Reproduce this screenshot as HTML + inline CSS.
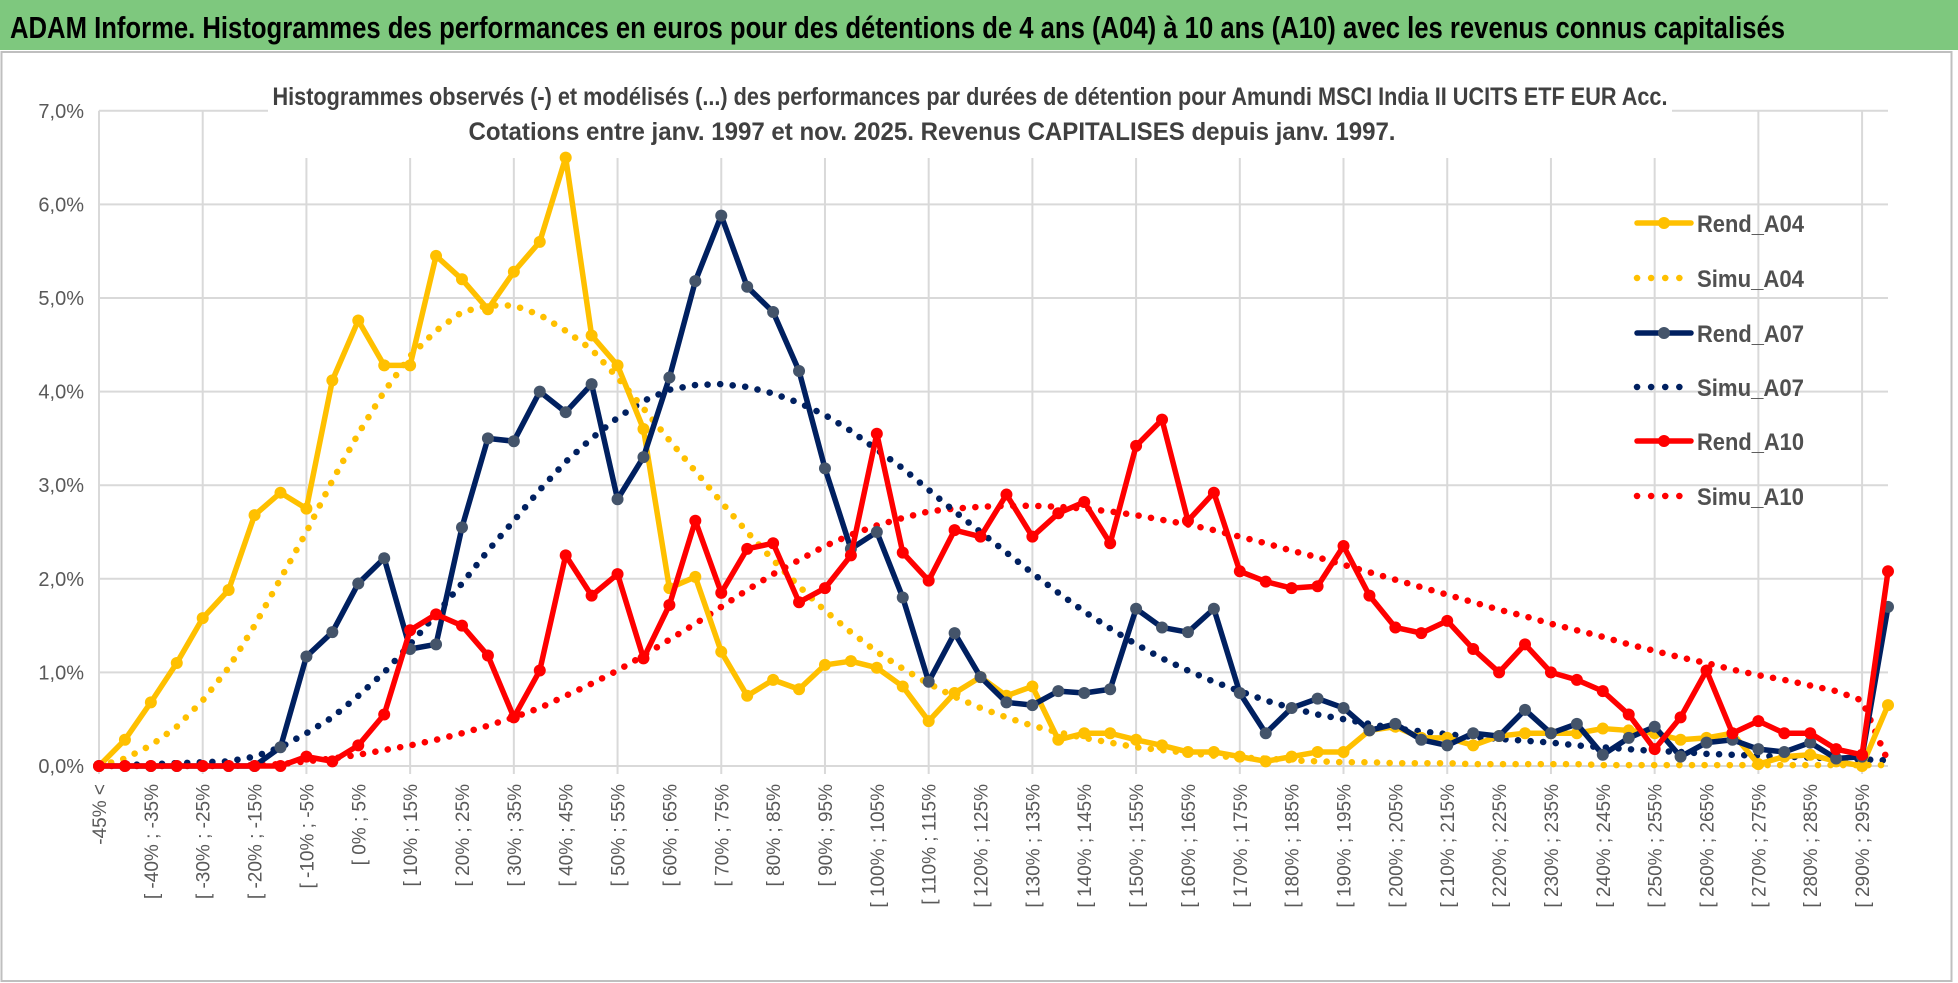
<!DOCTYPE html>
<html><head><meta charset="utf-8"><style>
html,body{margin:0;padding:0;background:#fff;}
svg{display:block;font-family:"Liberation Sans Narrow","Liberation Sans",sans-serif;}
</style></head><body>
<svg id="chart" width="1958" height="983" viewBox="0 0 1958 983">
<rect x="0" y="0" width="1958" height="983" fill="#fff"/>
<rect x="0" y="0" width="1958" height="50" fill="#7ec87e"/>
<text x="10" y="38" font-size="31" font-weight="bold" fill="#000" textLength="1775" lengthAdjust="spacingAndGlyphs">ADAM Informe. Histogrammes des performances en euros pour des détentions de 4 ans (A04) à 10 ans (A10) avec les revenus connus capitalisés</text>
<rect x="1.5" y="52" width="1950" height="929" fill="none" stroke="#bfbfbf" stroke-width="2"/>
<g id="grid"></g>
<g id="yaxis"></g>
<g id="xaxis"></g>
<rect x="268" y="78" width="1404" height="80" fill="#fff"/>
<text x="970" y="105" font-size="25" font-weight="bold" fill="#404040" text-anchor="middle" textLength="1395" lengthAdjust="spacingAndGlyphs">Histogrammes observés (-) et modélisés (...) des performances par durées de détention pour Amundi MSCI India II UCITS ETF EUR Acc.</text>
<text x="932" y="140" font-size="25" font-weight="bold" fill="#404040" text-anchor="middle" textLength="927" lengthAdjust="spacingAndGlyphs">Cotations entre janv. 1997 et nov. 2025. Revenus CAPITALISES depuis janv. 1997.</text>
<g id="series"></g>
<g id="legend"></g>
</svg>
<script>
const yTicks = [0,1,2,3,4,5,6,7];
const rendA04 = [0,0.28,0.68,1.1,1.58,1.88,2.68,2.92,2.75,4.12,4.76,4.28,4.28,5.45,5.2,4.88,5.28,5.6,6.5,4.6,4.28,3.6,1.9,2.02,1.22,0.75,0.92,0.82,1.08,1.12,1.05,0.85,0.48,0.78,0.95,0.75,0.85,0.28,0.35,0.35,0.28,0.22,0.15,0.15,0.1,0.05,0.1,0.15,0.15,0.38,0.42,0.3,0.3,0.22,0.32,0.35,0.35,0.35,0.4,0.38,0.35,0.28,0.3,0.35,0.02,0.1,0.12,0.05,0,0.65];
const simuA04 = [0,0.08,0.22,0.42,0.7,1.05,1.5,2.0,2.5,3.05,3.55,4.0,4.38,4.65,4.85,4.92,4.92,4.82,4.65,4.45,4.15,3.82,3.48,3.15,2.82,2.5,2.2,1.92,1.66,1.43,1.22,1.04,0.88,0.74,0.62,0.52,0.43,0.36,0.3,0.25,0.2,0.17,0.14,0.11,0.09,0.08,0.06,0.05,0.04,0.04,0.03,0.03,0.03,0.02,0.02,0.02,0.02,0.02,0.01,0.01,0.01,0.01,0.01,0.01,0.01,0.01,0.01,0.01,0.01,0.01];
const rendA07 = [0,0,0,0,0,0,0,0.2,1.17,1.43,1.95,2.22,1.25,1.3,2.55,3.5,3.47,4.0,3.78,4.08,2.85,3.3,4.15,5.18,5.88,5.12,4.85,4.22,3.18,2.32,2.5,1.8,0.9,1.42,0.95,0.68,0.65,0.8,0.78,0.82,1.68,1.48,1.43,1.68,0.78,0.35,0.62,0.72,0.62,0.38,0.45,0.28,0.22,0.35,0.32,0.6,0.35,0.45,0.12,0.3,0.42,0.1,0.25,0.28,0.18,0.15,0.25,0.08,0.1,1.7];
const simuA07 = [0.01,0.01,0.02,0.03,0.04,0.05,0.1,0.2,0.35,0.52,0.75,1.0,1.3,1.62,1.95,2.3,2.62,2.95,3.25,3.5,3.72,3.9,4.02,4.07,4.08,4.05,3.98,3.88,3.75,3.58,3.38,3.18,2.95,2.72,2.5,2.28,2.06,1.85,1.65,1.47,1.3,1.15,1.02,0.9,0.8,0.7,0.62,0.55,0.5,0.45,0.4,0.37,0.34,0.31,0.29,0.27,0.25,0.22,0.2,0.18,0.16,0.15,0.13,0.12,0.11,0.1,0.09,0.08,0.07,0.06];
const rendA10 = [0,0,0,0,0,0,0,0,0.1,0.05,0.22,0.55,1.45,1.62,1.5,1.18,0.52,1.02,2.25,1.82,2.05,1.15,1.72,2.62,1.85,2.32,2.38,1.75,1.9,2.25,3.55,2.28,1.98,2.52,2.45,2.9,2.45,2.7,2.82,2.38,3.42,3.7,2.62,2.92,2.08,1.97,1.9,1.92,2.35,1.82,1.48,1.42,1.55,1.25,1.0,1.3,1.0,0.92,0.8,0.55,0.18,0.52,1.02,0.35,0.48,0.35,0.35,0.18,0.12,2.08];
const simuA10 = [0,0,0,0,0,0,0.01,0.02,0.05,0.08,0.12,0.17,0.22,0.28,0.35,0.43,0.52,0.62,0.75,0.88,1.02,1.18,1.35,1.52,1.7,1.88,2.05,2.2,2.35,2.47,2.57,2.65,2.72,2.75,2.77,2.78,2.78,2.77,2.75,2.72,2.68,2.63,2.58,2.52,2.45,2.38,2.3,2.23,2.15,2.07,1.99,1.91,1.83,1.75,1.67,1.6,1.52,1.45,1.38,1.3,1.23,1.16,1.1,1.03,0.97,0.92,0.86,0.8,0.7,0.05];
const categories = ["-45% <"];
for (let b=-45; b<300; b+=5) categories.push("[ "+b+"% ; "+(b+5)+"%");

const NS="http://www.w3.org/2000/svg";
const X0=99, X1=1888, Y0=766, YPX=93.6;
const N=rendA04.length;
function xs(i){return X0+(X1-X0)*i/(N-1);}
function ys(v){return Y0-v*YPX;}
function mk(tag,attrs,parent){const e=document.createElementNS(NS,tag);for(const k in attrs)e.setAttribute(k,attrs[k]);parent.appendChild(e);return e;}
const grid=document.getElementById('grid'), yax=document.getElementById('yaxis'), xax=document.getElementById('xaxis'), ser=document.getElementById('series'), leg=document.getElementById('legend');

yTicks.forEach(t=>{
  const l=mk('line',{x1:X0,x2:X1,y1:ys(t),y2:ys(t),stroke:'#d9d9d9','stroke-width':2},grid);
  
  
  const tx=mk('text',{x:84,y:ys(t)+7,'font-size':20,fill:'#595959','text-anchor':'end'},yax);
  tx.textContent=t.toFixed(1).replace('.',',')+'%';
  
  
});
for(let i=0;i<N;i+=4){
  const l=mk('line',{x1:xs(i),x2:xs(i),y1:ys(7),y2:Y0+8,stroke:'#d9d9d9','stroke-width':2},grid);
  
  
}
for(let i=0;i<N;i+=2){
  const x=xs(i)+7, y=784;
  const tx=mk('text',{x:x,y:y,'font-size':19,fill:'#595959','text-anchor':'end',transform:'rotate(-90 '+x+' '+y+')'},xax);
  tx.textContent=categories[i];
  
  
}
function solid(vals,color,mcolor,name){
  const g=mk('g',{},ser);
  
  
  const p=mk('polyline',{points:vals.map((v,i)=>xs(i)+','+ys(v)).join(' '),fill:'none',stroke:color,'stroke-width':5.5,'stroke-linejoin':'round'},g);
  
  
  vals.forEach((v,i)=>{
    const c=mk('circle',{cx:xs(i),cy:ys(v),r:6,fill:mcolor},g);
    
    
  });
}
function dotted(vals,color,name){
  const p=mk('polyline',{points:vals.map((v,i)=>xs(i)+','+ys(v)).join(' '),fill:'none',stroke:color,'stroke-width':6.5,'stroke-linecap':'round','stroke-dasharray':'0.1 12.5'},ser);
  
  
}
dotted(simuA10,'#ff0000','simu-a10-line');
dotted(simuA07,'#002060','simu-a07-line');
dotted(simuA04,'#ffc000','simu-a04-line');
solid(rendA04,'#ffc000','#ffc000','rend-a04-series');
solid(rendA07,'#002060','#44546a','rend-a07-series');
solid(rendA10,'#ff0000','#ff0000','rend-a10-series');

const legItems=[['Rend_A04','#ffc000','#ffc000',true],['Simu_A04','#ffc000',null,false],['Rend_A07','#002060','#44546a',true],['Simu_A07','#002060',null,false],['Rend_A10','#ff0000','#ff0000',true],['Simu_A10','#ff0000',null,false]];
const legY=[223,278,333,387,441,496];
legItems.forEach((it,k)=>{
  const g=mk('g',{},leg);
  
  
  const y=legY[k];
  if(it[3]){
    mk('line',{x1:1637,x2:1691,y1:y,y2:y,stroke:it[1],'stroke-width':5.5,'stroke-linecap':'round'},g);
    mk('circle',{cx:1664,cy:y,r:6,fill:it[2]},g);
  } else {
    mk('line',{x1:1637,x2:1681,y1:y,y2:y,stroke:it[1],'stroke-width':6.5,'stroke-linecap':'round','stroke-dasharray':'0.1 14'},g);
  }
  const tx=mk('text',{x:1697,y:y+9,'font-size':24,'font-weight':'bold',fill:'#505050',textLength:107,lengthAdjust:'spacingAndGlyphs'},g);
  tx.textContent=it[0];
});
</script>
</body></html>
